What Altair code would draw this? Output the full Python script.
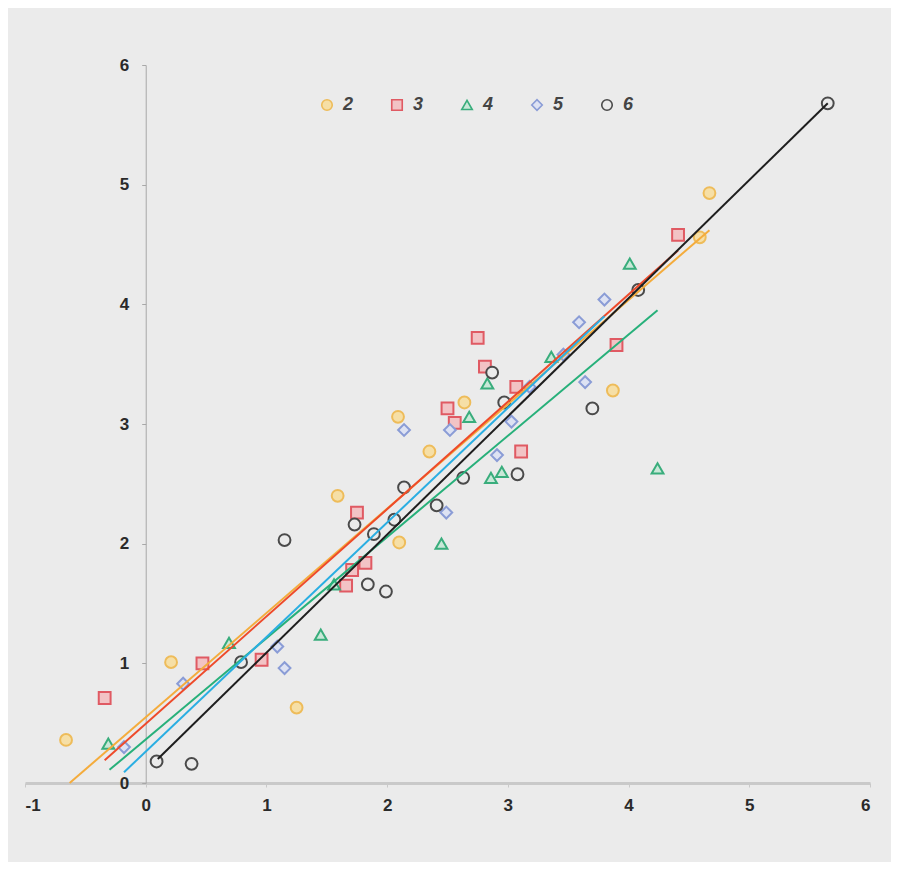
import altair as alt
import pandas as pd

# ---- data ----
series_names = ["2", "3", "4", "5", "6"]

s2_x = [-0.66, 0.21, 1.25, 1.59, 2.09, 2.10, 2.35, 2.64, 3.87, 4.59, 4.67]
s2_y = [0.36, 1.01, 0.63, 2.40, 3.06, 2.01, 2.77, 3.18, 3.28, 4.56, 4.93]

s3_x = [-0.34, 0.47, 0.96, 1.66, 1.71, 1.82, 1.75, 2.50, 2.56, 2.75, 2.81, 3.07, 3.11, 3.90, 4.41]
s3_y = [0.71, 1.00, 1.03, 1.65, 1.78, 1.84, 2.26, 3.13, 3.01, 3.72, 3.48, 3.31, 2.77, 3.66, 4.58]

s4_x = [-0.31, 0.69, 1.45, 1.56, 2.45, 2.68, 2.83, 2.86, 2.95, 3.36, 4.01, 4.24]
s4_y = [0.33, 1.17, 1.24, 1.66, 2.00, 3.06, 3.34, 2.55, 2.60, 3.56, 4.34, 2.63]

s5_x = [-0.18, 0.31, 1.09, 1.15, 2.14, 2.52, 2.49, 2.91, 3.03, 3.18, 3.46, 3.59, 3.64, 3.80]
s5_y = [0.30, 0.83, 1.14, 0.96, 2.95, 2.95, 2.26, 2.74, 3.02, 3.31, 3.58, 3.85, 3.35, 4.04]

s6_x = [0.09, 0.38, 0.79, 1.15, 1.73, 1.84, 1.99, 1.89, 2.06, 2.14, 2.41, 2.63, 2.87, 2.97, 3.08, 3.70, 4.08, 5.65]
s6_y = [0.18, 0.16, 1.01, 2.03, 2.16, 1.66, 1.60, 2.08, 2.20, 2.47, 2.32, 2.55, 3.43, 3.18, 2.58, 3.13, 4.12, 5.68]

# trend line end points
trend_x_start = [-0.63, -0.34, -0.30, -0.18, 0.10]
trend_y_start = [0.00, 0.19, 0.11, 0.09, 0.20]
trend_x_end = [4.67, 4.41, 4.24, 3.80, 5.65]
trend_y_end = [4.62, 4.45, 3.95, 3.90, 5.68]

x_ticks = [-1, 0, 1, 2, 3, 4, 5, 6]
y_ticks = [0, 1, 2, 3, 4, 5, 6]

point_colors = ["#eebc5a", "#e05a63", "#39ad7c", "#8a9cd6", "#4a4a4a"]
point_fills = ["#f6dfa6", "#f2c3c5", "#c9e8d8", "#dde2f3", "#ebebeb"]
point_shapes = ["circle", "square", "triangle-up", "diamond", "circle"]
line_colors = ["#f4ac3c", "#ee4a2a", "#27b07a", "#2aaee2", "#1e1e1e"]

# ---- tables ----
rows = []
for name, xs, ys in zip(series_names, [s2_x, s3_x, s4_x, s5_x, s6_x],
                        [s2_y, s3_y, s4_y, s5_y, s6_y]):
    for x, y in zip(xs, ys):
        rows.append({"series": name, "x": x, "y": y})
points = pd.DataFrame(rows)

trows = []
for i, name in enumerate(series_names):
    trows.append({"series": name, "x": trend_x_start[i], "y": trend_y_start[i], "o": 0})
    trows.append({"series": name, "x": trend_x_end[i], "y": trend_y_end[i], "o": 1})
trends = pd.DataFrame(trows)

W, H = 845, 718

x_scale = alt.Scale(domain=[-1, 6], nice=False, zero=False)
y_scale = alt.Scale(domain=[0, 6], nice=False, zero=False)

x_axis = alt.Axis(
    values=x_ticks, title=None, grid=False, domainColor="#c9c9c9", domainWidth=3,
    tickColor="#c9c9c9", tickSize=4, labelPadding=10, labelFont="Liberation Sans",
    labelFontWeight="bold", labelFontSize=17, labelColor="#2a2a2a",
    labelExpr="'' + datum.value",
)
y_axis = alt.Axis(
    values=y_ticks, title=None, grid=False, domainColor="#a8a8a8", domainWidth=1,
    tickColor="#a8a8a8", tickSize=4, labelPadding=13, labelFont="Liberation Sans",
    labelFontWeight="bold", labelFontSize=17, labelColor="#2a2a2a",
    offset=-W / 7.0,
)

legend = alt.Legend(
    title=None, orient="none", direction="horizontal", columns=5,
    legendX=293, legendY=31, columnPadding=34, labelOffset=7,
    labelFont="Liberation Sans", labelFontSize=18, labelFontWeight="bold",
    labelFontStyle="italic", labelColor="#444444", symbolSize=110,
    symbolStrokeWidth=1.6,
)

lines = alt.Chart(trends).mark_line(strokeWidth=2).encode(
    x=alt.X("x:Q", scale=x_scale, axis=x_axis),
    y=alt.Y("y:Q", scale=y_scale, axis=y_axis),
    color=alt.Color("series:N", scale=alt.Scale(domain=series_names, range=line_colors), legend=None),
    detail="series:N",
    order="o:Q",
)

pts = alt.Chart(points).mark_point(filled=True, strokeWidth=2, size=140, opacity=1, fillOpacity=1).encode(
    x=alt.X("x:Q", scale=x_scale, axis=x_axis),
    y=alt.Y("y:Q", scale=y_scale, axis=y_axis),
    fill=alt.Fill("series:N", scale=alt.Scale(domain=series_names, range=point_fills), legend=legend),
    stroke=alt.Stroke("series:N", scale=alt.Scale(domain=series_names, range=point_colors), legend=legend),
    shape=alt.Shape("series:N", scale=alt.Scale(domain=series_names, range=point_shapes), legend=legend),
)

chart = alt.layer(pts, lines).resolve_scale(color="independent").properties(
    width=W, height=H,
    autosize=alt.AutoSizeParams(type="none"),
    padding={"left": 17, "top": 57, "right": 21, "bottom": 79},
    background="#ebebeb",
).configure_view(stroke=None)

chart.save("out.html", embed_options={"renderer": "svg", "actions": False})
